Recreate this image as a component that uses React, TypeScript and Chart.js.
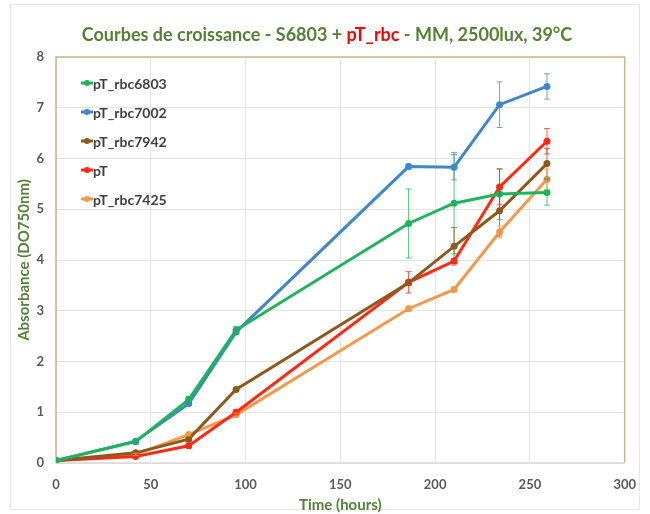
import React, { useEffect, useRef } from "react";
import { Chart, registerables } from "chart.js";
Chart.register(...registerables);

const times = [0, 42, 70, 95, 186, 210, 234, 259];
const seriesNames = ["pT_rbc6803", "pT_rbc7002", "pT_rbc7942", "pT", "pT_rbc7425"];
const seriesColors = ["#1DB45A", "#3F87C8", "#8C5A1C", "#FF2A14", "#F4994C"];
const rbc6803 = [0.05, 0.42, 1.25, 2.62, 4.72, 5.12, 5.3, 5.33];
const rbc7002 = [0.05, 0.43, 1.17, 2.58, 5.84, 5.83, 7.06, 7.42];
const rbc7942 = [0.05, 0.2, 0.47, 1.45, 3.55, 4.27, 4.97, 5.9];
const pT = [0.05, 0.13, 0.34, 1.0, 3.56, 3.98, 5.44, 6.34];
const rbc7425 = [0.05, 0.17, 0.56, 0.95, 3.04, 3.42, 4.55, 5.59];
const rbc6803Err = [0, 0.02, 0.06, 0.07, 0.68, 1.0, 0.5, 0.25];
const rbc7002Err = [0, 0.02, 0.04, 0.05, 0.05, 0.25, 0.45, 0.25];
const rbc7942Err = [0, 0.02, 0.04, 0.04, 0.05, 0.37, 0.5, 0.3];
const pTErr = [0, 0.02, 0.03, 0.04, 0.21, 0.05, 0.35, 0.25];
const rbc7425Err = [0, 0.02, 0.03, 0.03, 0.05, 0.05, 0.12, 0.2];
const xTicks = [0, 50, 100, 150, 200, 250, 300];
const yTicks = [0, 1, 2, 3, 4, 5, 6, 7, 8];

const seriesValues = [rbc6803, rbc7002, rbc7942, pT, rbc7425];
const seriesErrors = [rbc6803Err, rbc7002Err, rbc7942Err, pTErr, rbc7425Err];

const FONT = "Lato, 'Open Sans', sans-serif";
const GREEN_TEXT = "#538135";

const frame = {
  id: "frame",
  beforeDatasetsDraw(chart: any) {
    const { ctx, chartArea: a } = chart;
    ctx.save();
    ctx.strokeStyle = "#CDB68C";
    ctx.lineWidth = 1.5;
    ctx.beginPath();
    ctx.moveTo(a.left, a.bottom);
    ctx.lineTo(a.left, a.top);
    ctx.lineTo(a.right, a.top);
    ctx.lineTo(a.right, a.bottom);
    ctx.stroke();
    ctx.strokeStyle = "#D9D9D9";
    ctx.beginPath();
    ctx.moveTo(a.left, a.bottom);
    ctx.lineTo(a.right, a.bottom);
    ctx.stroke();
    ctx.restore();
  },
};

const errorBars = {
  id: "errorBars",
  afterDatasetsDraw(chart: any) {
    const { ctx } = chart;
    const xs = chart.scales.x;
    const ys = chart.scales.y;
    ctx.save();
    ctx.lineWidth = 1;
    seriesValues.forEach((vals, i) => {
      ctx.strokeStyle = seriesColors[i];
      ctx.globalAlpha = 0.75;
      vals.forEach((v, j) => {
        const e = seriesErrors[i][j];
        if (!e) return;
        const x = xs.getPixelForValue(times[j]);
        const y1 = ys.getPixelForValue(v + e);
        const y2 = ys.getPixelForValue(v - e);
        ctx.beginPath();
        ctx.moveTo(x, y1);
        ctx.lineTo(x, y2);
        ctx.moveTo(x - 3, y1);
        ctx.lineTo(x + 3, y1);
        ctx.moveTo(x - 3, y2);
        ctx.lineTo(x + 3, y2);
        ctx.stroke();
      });
    });
    ctx.restore();
  },
};

const innerLegend = {
  id: "innerLegend",
  afterDraw(chart: any) {
    const { ctx, chartArea: a } = chart;
    ctx.save();
    ctx.font = "bold 14px " + FONT;
    ctx.textBaseline = "middle";
    seriesNames.forEach((name, i) => {
      const y = a.top + 26 + i * 29;
      const x0 = a.left + 25;
      ctx.strokeStyle = seriesColors[i];
      ctx.lineWidth = 3;
      ctx.beginPath();
      ctx.moveTo(x0, y);
      ctx.lineTo(x0 + 12, y);
      ctx.stroke();
      ctx.fillStyle = seriesColors[i];
      ctx.beginPath();
      ctx.arc(x0 + 6, y, 3, 0, Math.PI * 2);
      ctx.fill();
      ctx.fillStyle = "#404040";
      ctx.fillText(name, x0 + 12, y + 1);
    });
    ctx.restore();
  },
};

export default function App() {
  const ref = useRef<HTMLCanvasElement>(null);
  useEffect(() => {
    if (!ref.current) return;
    const chart = new Chart(ref.current, {
      type: "line",
      data: {
        datasets: seriesNames.map((name, i) => ({
          label: name,
          data: times.map((t, j) => ({ x: t, y: seriesValues[i][j] })),
          borderColor: seriesColors[i],
          backgroundColor: seriesColors[i],
          borderWidth: 3,
          pointRadius: 3.5,
          pointBorderWidth: 0,
          pointHoverRadius: 3.5,
          tension: 0,
        })),
      },
      options: {
        animation: false,
        responsive: false,
        maintainAspectRatio: false,
        layout: { padding: { top: 57, right: 20, left: 0, bottom: 0 } },
        plugins: {
          legend: { display: false },
          title: { display: false },
          tooltip: { enabled: false },
        },
        scales: {
          x: {
            type: "linear",
            min: 0,
            max: 300,
            afterBuildTicks: (s: any) => {
              s.ticks = xTicks.map((v) => ({ value: v }));
            },
            afterFit: (s: any) => {
              s.height = 51;
            },
            grid: { color: "#E3E3E3", drawTicks: false, lineWidth: 1 },
            border: { display: false },
            ticks: {
              padding: 14,
              color: "#595959",
              font: { family: FONT, size: 13, weight: "bold" },
            },
            title: {
              display: true,
              text: "Time (hours)",
              color: GREEN_TEXT,
              font: { family: FONT, size: 15, weight: "bold" },
              padding: { top: 0, bottom: 0 },
            },
          },
          y: {
            min: 0,
            max: 8,
            afterBuildTicks: (s: any) => {
              s.ticks = yTicks.map((v) => ({ value: v }));
            },
            afterFit: (s: any) => {
              s.width = 56;
            },
            grid: { color: "#E3E3E3", drawTicks: false, lineWidth: 1 },
            border: { display: false },
            ticks: {
              padding: 12,
              color: "#595959",
              font: { family: FONT, size: 13, weight: "bold" },
            },
            title: {
              display: true,
              text: "Absorbance (DO750nm)",
              color: GREEN_TEXT,
              font: { family: FONT, size: 15, weight: "bold" },
              padding: { top: 15, bottom: 0 },
            },
          },
        },
      },
      plugins: [frame, errorBars, innerLegend],
    });
    return () => chart.destroy();
  }, []);

  return (
    <div style={{ position: "absolute", left: 0, top: 0, width: 650, height: 514, background: "#fff" }}>
      <div
        style={{
          position: "absolute",
          left: 10,
          top: 4,
          width: 630,
          height: 506,
          border: "1px solid #E6E6E6",
          boxSizing: "border-box",
        }}
      />
      <canvas ref={ref} width={650} height={514} style={{ position: "absolute", left: 0, top: 0 }} />
      <div
        style={{
          position: "absolute",
          left: 0,
          top: 23,
          width: 654,
          textAlign: "center",
          fontFamily: FONT,
          fontWeight: "bold",
          fontSize: 18,
          color: GREEN_TEXT,
          lineHeight: "22px",
          whiteSpace: "nowrap",
        }}
      >
        Courbes de croissance - S6803 + <span style={{ color: "#FF0000" }}>pT_rbc</span> - MM, 2500lux, 39°C
      </div>
    </div>
  );
}
